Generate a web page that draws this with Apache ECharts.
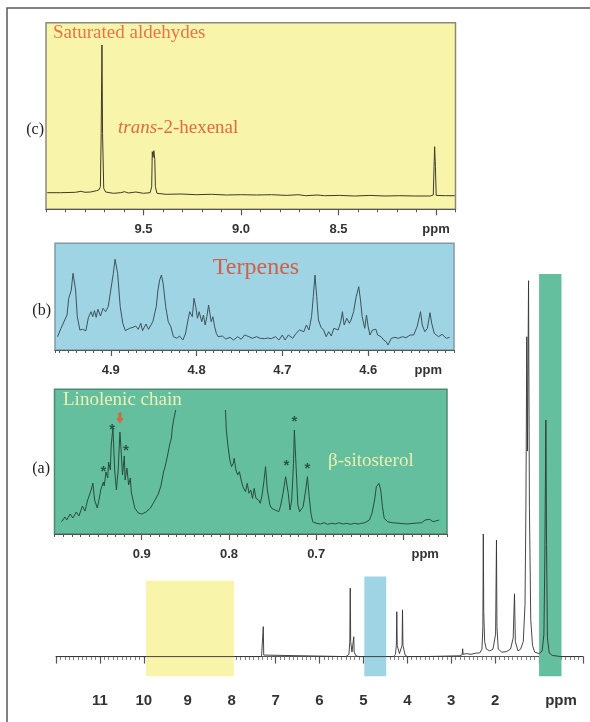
<!DOCTYPE html>
<html>
<head>
<meta charset="utf-8">
<script src="https://cdn.jsdelivr.net/npm/echarts@6/dist/echarts.min.js"></script>
<style>
  html, body { margin: 0; padding: 0; background: #fff; }
  #chart { width: 590px; height: 722px; }
</style>
</head>
<body>
<div id="chart"></div>
<script>
// full 1H spectrum, [ppm, intensity]
var mainSpectrum = [
  [12.0, 0], [7.32, 0], [7.29, 0.4], [7.28, 8], [7.27, 0.4], [7.24, 0],
  [5.40, 0], [5.33, 0.6], [5.31, 4], [5.30, 18.3], [5.29, 4], [5.26, 1.2], [5.23, 1.6], [5.22, 5.3], [5.21, 1.2], [5.17, 0.2], [5.10, 0],
  [4.32, 0], [4.27, 0.6], [4.25, 3], [4.24, 12], [4.23, 3], [4.18, 0.8], [4.12, 3], [4.11, 12.5], [4.10, 3], [4.05, 0.4], [4.00, 0],
  [3.60, 0], [2.82, 0.2], [2.75, 0.5], [2.74, 2.1], [2.73, 0.6], [2.65, 0.8], [2.55, 0.6], [2.45, 0.9], [2.35, 1],
  [2.30, 2], [2.28, 8], [2.27, 32.8], [2.26, 12], [2.24, 4], [2.20, 2], [2.12, 1.5], [2.05, 2],
  [1.99, 6], [1.97, 31.2], [1.96, 8], [1.93, 2], [1.85, 1.2], [1.75, 1.3], [1.65, 2],
  [1.59, 5], [1.56, 16.8], [1.54, 4], [1.48, 1.5], [1.42, 2],
  [1.36, 4], [1.32, 14], [1.30, 40], [1.28, 85.6], [1.265, 55], [1.24, 100.6], [1.22, 40], [1.19, 10], [1.15, 3], [1.10, 1.2],
  [1.00, 0.8], [0.93, 1.5], [0.89, 6], [0.87, 25], [0.845, 63.3], [0.83, 30], [0.81, 5], [0.77, 1], [0.70, 0.3], [0.50, 0], [0.0, 0]
];

// highlighted regions on the full spectrum: [ppm from, ppm to, top]
var bandYellow = [9.95, 7.95, 20.3];
var bandBlue = [4.98, 4.48, 21.4];
var bandGreen = [1.00, 0.49, 102.4];
var bandBottom = -5.25;

// (c) aldehyde region
var traceC = [
  [9.994, 16.6], [9.926, 16.6], [9.849, 17], [9.820, 18], [9.800, 17], [9.771, 17.3], [9.742, 18.6], [9.729, 19.3],
  [9.721, 22.6], [9.717, 76], [9.713, 164.3], [9.710, 76], [9.704, 21], [9.694, 17.3], [9.655, 16], [9.617, 16.6],
  [9.597, 17.6], [9.578, 16.3], [9.539, 17.3], [9.501, 16], [9.466, 16.6], [9.458, 22.6], [9.455, 57.6], [9.451, 52],
  [9.447, 58.6], [9.442, 50], [9.439, 22.6], [9.431, 16], [9.384, 15], [9.307, 15.3], [9.230, 14.6], [9.152, 15],
  [9.075, 14.3], [8.997, 14.6], [8.920, 14.3], [8.843, 14.6], [8.765, 13.9], [8.707, 14.6], [8.668, 13.6], [8.610, 14.3],
  [8.572, 13.6], [8.494, 13.9], [8.417, 13.3], [8.339, 13.9], [8.262, 13.3], [8.185, 13.6], [8.107, 13.3], [8.030, 13.3],
  [8.014, 14.3], [8.010, 42.6], [8.007, 62.6], [8.003, 42.6], [7.999, 13.9], [7.952, 13.6], [7.904, 13.6]
];

// (b) terpene region
var traceB = [
  [4.962, 13.3], [4.958, 21.7], [4.951, 35], [4.949, 51.7], [4.946, 60], [4.944, 76.7], [4.941, 60], [4.939, 33.3],
  [4.936, 20], [4.933, 20.7], [4.929, 19.3], [4.926, 32.7], [4.923, 38.3], [4.921, 33.3], [4.919, 39.3], [4.917, 32.7],
  [4.915, 40.7], [4.912, 34], [4.909, 41.7], [4.906, 38.3], [4.903, 43.3], [4.900, 60], [4.897, 76.7], [4.895, 90.7],
  [4.892, 76.7], [4.889, 43.3], [4.886, 26.7], [4.883, 19.3], [4.878, 21.7], [4.874, 22.7], [4.871, 24], [4.868, 20.7],
  [4.865, 26.7], [4.863, 19.3], [4.859, 26], [4.856, 20.7], [4.854, 20], [4.851, 28.3], [4.847, 43.3], [4.845, 60],
  [4.843, 70], [4.841, 75], [4.839, 66.7], [4.836, 43.3], [4.833, 28.3], [4.830, 23.3], [4.827, 13.3], [4.823, 11.7],
  [4.820, 14], [4.816, 10], [4.813, 16], [4.810, 30], [4.808, 38.3], [4.805, 33.3], [4.803, 51.7], [4.801, 43.3],
  [4.799, 31.7], [4.797, 38.3], [4.794, 28.3], [4.792, 35], [4.790, 25], [4.788, 33.3], [4.786, 45], [4.783, 28.3],
  [4.781, 33.3], [4.779, 23.3], [4.777, 16.7], [4.775, 13.3], [4.770, 14], [4.766, 11], [4.761, 12.7], [4.757, 10],
  [4.752, 13.3], [4.748, 10.7], [4.744, 15], [4.739, 13.3], [4.735, 11.7], [4.730, 13.3], [4.726, 11.7], [4.721, 11.3],
  [4.717, 12], [4.713, 11.3], [4.708, 13.3], [4.704, 10], [4.700, 15], [4.697, 10], [4.693, 15], [4.688, 11.7],
  [4.684, 16.7], [4.680, 20], [4.675, 18.3], [4.672, 25], [4.669, 20], [4.666, 33.3], [4.664, 53.3], [4.662, 75],
  [4.660, 53.3], [4.658, 30], [4.655, 22.7], [4.652, 20], [4.649, 13.3], [4.646, 18.3], [4.643, 14], [4.640, 21.7],
  [4.635, 20], [4.632, 28.3], [4.630, 38.3], [4.628, 25], [4.625, 31.7], [4.622, 26.7], [4.620, 30], [4.617, 38.3],
  [4.614, 53.3], [4.611, 63.3], [4.609, 50], [4.607, 33.3], [4.604, 21.7], [4.602, 35], [4.600, 23.3], [4.598, 15],
  [4.595, 20], [4.591, 20.7], [4.589, 15], [4.585, 13.3], [4.582, 10], [4.579, 8.3], [4.577, 5], [4.573, 11.7],
  [4.569, 12.7], [4.565, 11.7], [4.560, 13.3], [4.556, 12.3], [4.551, 15], [4.547, 15], [4.543, 23.3], [4.539, 38.3],
  [4.537, 25], [4.534, 18.3], [4.531, 21.7], [4.528, 37.3], [4.526, 26.7], [4.523, 16.7], [4.518, 13.3], [4.514, 15.7],
  [4.509, 11.7], [4.505, 12.7]
];

// (a) methyl region, trace cut where it leaves the panel
var traceALeft = [
  [0.992, 12.3], [0.988, 17], [0.986, 14], [0.982, 20], [0.979, 16], [0.975, 22], [0.972, 18], [0.968, 28],
  [0.965, 23], [0.962, 34], [0.958, 44], [0.956, 51], [0.954, 34], [0.951, 26], [0.949, 34], [0.947, 44],
  [0.944, 52], [0.943, 48], [0.941, 62], [0.939, 56], [0.938, 72], [0.936, 64], [0.935, 89], [0.933, 106],
  [0.931, 64], [0.929, 44], [0.927, 64], [0.925, 102], [0.924, 89], [0.922, 59], [0.920, 78], [0.919, 54],
  [0.917, 66], [0.915, 49], [0.913, 56], [0.912, 42], [0.910, 34], [0.908, 26], [0.904, 21], [0.900, 20],
  [0.895, 22], [0.890, 26], [0.886, 32], [0.881, 40], [0.878, 48], [0.875, 62], [0.873, 68], [0.871, 76],
  [0.868, 89], [0.866, 96], [0.865, 106], [0.863, 116], [0.861, 124]
];
var traceARight = [
  [0.804, 124], [0.803, 104], [0.801, 87.3], [0.799, 74], [0.797, 67.3], [0.795, 70.7], [0.794, 75.7], [0.792, 64],
  [0.790, 59], [0.788, 62.3], [0.786, 54], [0.784, 47.3], [0.781, 42.3], [0.779, 50.7], [0.777, 40.7], [0.775, 44],
  [0.773, 35.7], [0.771, 45.7], [0.769, 35.7], [0.766, 34], [0.764, 30.7], [0.762, 39], [0.760, 52.3], [0.758, 67.3],
  [0.756, 44], [0.753, 29], [0.751, 25.7], [0.747, 24], [0.743, 22.3], [0.741, 27.3], [0.738, 40.7], [0.735, 57.3],
  [0.732, 40.7], [0.730, 24], [0.728, 34], [0.726, 70.7], [0.725, 104], [0.723, 67.3], [0.721, 29], [0.719, 22.3],
  [0.717, 21.3], [0.715, 27.3], [0.712, 44], [0.710, 57.3], [0.708, 37.3], [0.706, 20.7], [0.704, 12.3], [0.700, 10.7],
  [0.695, 10], [0.691, 11.3], [0.687, 9.7], [0.682, 10.7], [0.678, 10], [0.674, 11.3], [0.669, 10], [0.665, 10.7],
  [0.661, 9.7], [0.656, 10.7], [0.652, 10], [0.648, 10.7], [0.644, 11.3], [0.639, 14], [0.636, 20.7], [0.633, 34],
  [0.631, 47.3], [0.628, 50.7], [0.626, 44], [0.624, 27.3], [0.622, 15.7], [0.618, 12.3], [0.613, 11.3], [0.605, 10.7],
  [0.596, 10], [0.588, 10.7], [0.579, 11.3], [0.575, 14], [0.570, 14.7], [0.566, 12.3], [0.559, 14]
];
var asterisksA = [[0.934, 108], [0.918, 87], [0.944, 66], [0.725, 116], [0.734, 72], [0.710, 69]];
var arrowA = [[0.925, 116]];

// tick labels (the unit sits where the last label would go)
var mainLabels = [11, 10, 9, 8, 7, 6, 5, 4, 3, 2];
var mainUnitAt = 0.5;
var cLabels = [9.5, 9.0, 8.5];
var cUnitAt = 8.0;
var cMajor = [8.0, 8.5, 9.0, 9.5];
var bLabels = [4.9, 4.8, 4.7, 4.6];
var bUnitAt = 4.53;
var aLabels = [0.9, 0.8, 0.7];
var aUnitAt = 0.575;
var aMajor = [0.6, 0.7, 0.8, 0.9];

var YELLOW = '#f8f4a9', BLUE = '#9ed4e4', GREEN = '#63bf9d';
var SANS = '"Liberation Sans", Arial, sans-serif';
var SERIF = '"Liberation Serif", "Times New Roman", serif';

var chart = echarts.init(document.getElementById('chart'), null, { renderer: 'canvas' });

function tickLabel(unitAt, digits) {
  return {
    customValues: [],
    fontFamily: SANS, fontWeight: 'bold', fontSize: 13, color: '#333',
    formatter: function (v) {
      if (Math.abs(v - unitAt) < 1e-6) return 'ppm';
      return digits ? v.toFixed(digits) : String(v);
    }
  };
}

// minor axis (line, short ticks, labels) + major axis (long ticks only)
function insetAxes(gridIndex, min, max, step, labels, unitAt, major) {
  var lab = tickLabel(unitAt, 1);
  lab.customValues = labels.concat([unitAt]);
  lab.margin = 14;
  return [
    {
      type: 'value', gridIndex: gridIndex, position: 'bottom', min: min, max: max, inverse: true, interval: step,
      axisLine: { show: true, lineStyle: { color: '#555', width: 1.2 } },
      axisTick: { show: true, length: 3, lineStyle: { color: '#555', width: 1 } },
      axisLabel: lab,
      splitLine: { show: false }
    },
    {
      type: 'value', gridIndex: gridIndex, position: 'bottom', offset: 0, min: min, max: max, inverse: true,
      axisLine: { show: false },
      axisTick: { show: true, length: 6, customValues: major, lineStyle: { color: '#555', width: 1.2 } },
      axisLabel: { show: false },
      splitLine: { show: false }
    }
  ];
}

var mainLab = tickLabel(mainUnitAt, 0);
mainLab.customValues = mainLabels.concat([mainUnitAt]);
mainLab.fontSize = 15;
mainLab.margin = 14;

var xAxes = [{
  type: 'value', gridIndex: 0, position: 'bottom', min: 0, max: 12, inverse: true, interval: 1,
  axisLine: { show: true, lineStyle: { color: '#555', width: 1.2 } },
  axisTick: { show: true, length: 7, lineStyle: { color: '#555', width: 1.2 } },
  minorTick: { show: true, splitNumber: 10, length: 3.5, lineStyle: { color: '#666', width: 0.8 } },
  axisLabel: mainLab,
  splitLine: { show: false }, minorSplitLine: { show: false }
}]
  .concat(insetAxes(1, 7.9, 10.0, 0.1, cLabels, cUnitAt, cMajor))
  .concat(insetAxes(2, 4.5, 4.965, 0.01, bLabels, bUnitAt, bLabels))
  .concat(insetAxes(3, 0.55, 1.0, 0.01, aLabels, aUnitAt, aMajor));

function hiddenY(gridIndex, min, max) {
  return { type: 'value', gridIndex: gridIndex, min: min, max: max, show: false, splitLine: { show: false } };
}

function band(b, color) {
  return [{ coord: [b[0], bandBottom], itemStyle: { color: color } }, { coord: [b[1], b[2]] }];
}

var option = {
  animation: false,
  backgroundColor: '#fff',
  grid: [
    { left: 56, right: 7, top: 268, bottom: 43 },
    { left: 46, right: 134.5, top: 22.7, bottom: 512.7, show: true, backgroundColor: YELLOW, borderColor: '#8a8a7a', borderWidth: 1.5 },
    { left: 55, right: 136, top: 243.3, bottom: 372, show: true, backgroundColor: BLUE, borderColor: '#7f9aa4', borderWidth: 1.5 },
    { left: 54.5, right: 143, top: 389.3, bottom: 188, show: true, backgroundColor: GREEN, borderColor: '#4e8a72', borderWidth: 1.5 }
  ],
  xAxis: xAxes,
  yAxis: [hiddenY(0, -6, 104), hiddenY(1, 0, 186.6), hiddenY(2, 0, 106.7), hiddenY(3, 0, 144.7)],
  series: [
    {
      type: 'line', xAxisIndex: 0, yAxisIndex: 0, data: mainSpectrum, symbol: 'none', z: 5,
      lineStyle: { color: '#333', width: 0.9 },
      markArea: {
        silent: true, z: 1,
        data: [band(bandYellow, YELLOW), band(bandBlue, BLUE), band(bandGreen, GREEN)]
      }
    },
    {
      type: 'line', xAxisIndex: 1, yAxisIndex: 1, data: traceC, symbol: 'none',
      lineStyle: { color: '#3c3c2c', width: 1 }
    },
    {
      type: 'line', xAxisIndex: 3, yAxisIndex: 2, data: traceB, symbol: 'none',
      lineStyle: { color: '#3e535a', width: 1 }
    },
    {
      type: 'line', xAxisIndex: 5, yAxisIndex: 3, data: traceALeft, symbol: 'none',
      lineStyle: { color: '#2a4d3e', width: 1 }
    },
    {
      type: 'line', xAxisIndex: 5, yAxisIndex: 3, data: traceARight, symbol: 'none',
      lineStyle: { color: '#2a4d3e', width: 1 }
    },
    {
      type: 'scatter', xAxisIndex: 5, yAxisIndex: 3, data: asterisksA,
      symbol: 'circle', symbolSize: 1, itemStyle: { color: 'rgba(0,0,0,0)' },
      label: {
        show: true, position: 'inside', formatter: '*', offset: [0, 4],
        fontFamily: SANS, fontWeight: 'bold', fontSize: 15, color: '#1e3a30'
      }
    },
    {
      type: 'scatter', xAxisIndex: 5, yAxisIndex: 3, data: arrowA,
      symbol: 'path://M3,0 L7,0 L7,6 L10,6 L5,12 L0,6 L3,6 Z', symbolSize: [8, 11],
      itemStyle: { color: '#e8562a' }
    }
  ],
  graphic: [
    { type: 'polyline', silent: true, shape: { points: [[7, 722], [7, 8], [590, 8]] }, style: { stroke: '#5a5a5a', lineWidth: 1.5, fill: null } },
    { type: 'text', x: 53, y: 33, style: { text: 'Saturated aldehydes', font: '19px ' + SERIF, fill: '#e8734a', verticalAlign: 'middle' } },
    {
      type: 'text', x: 118, y: 128, style: {
        text: '{i|trans}-2-hexenal', font: '19px ' + SERIF, fill: '#e06a45', verticalAlign: 'middle',
        rich: { i: { fontStyle: 'italic', fontFamily: SERIF, fontSize: 19, fill: '#e06a45', color: '#e06a45' } }
      }
    },
    { type: 'text', x: 44, y: 130, style: { text: '(c)', font: '16px ' + SERIF, fill: '#222', align: 'right', verticalAlign: 'middle' } },
    { type: 'text', x: 256, y: 268, style: { text: 'Terpenes', font: '24px ' + SERIF, fill: '#d0604a', align: 'center', verticalAlign: 'middle' } },
    { type: 'text', x: 51, y: 311, style: { text: '(b)', font: '16px ' + SERIF, fill: '#222', align: 'right', verticalAlign: 'middle' } },
    { type: 'text', x: 63, y: 400, style: { text: 'Linolenic chain', font: '19px ' + SERIF, fill: '#f0f0b4', verticalAlign: 'middle' } },
    { type: 'text', x: 328, y: 461, style: { text: 'β-sitosterol', font: '19px ' + SERIF, fill: '#eeeeb0', verticalAlign: 'middle' } },
    { type: 'text', x: 50, y: 469, style: { text: '(a)', font: '16px ' + SERIF, fill: '#222', align: 'right', verticalAlign: 'middle' } }
  ]
};

chart.setOption(option);
</script>
</body>
</html>
